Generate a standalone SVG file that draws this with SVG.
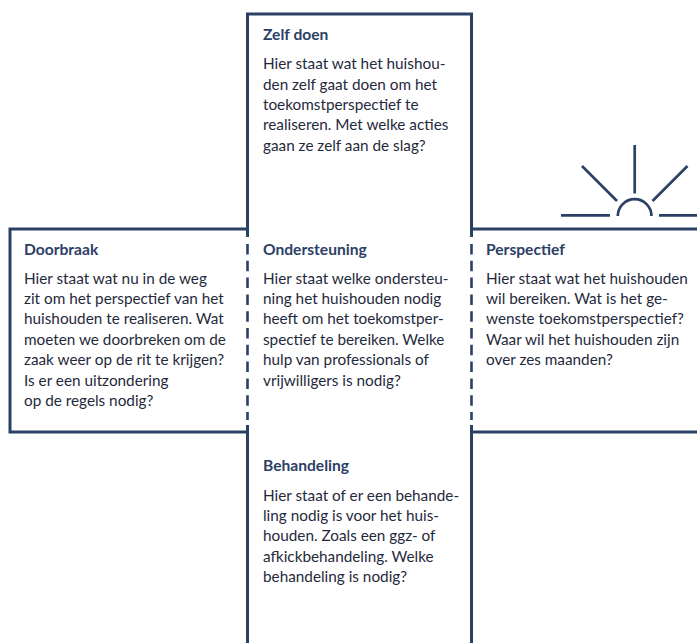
<svg xmlns="http://www.w3.org/2000/svg" width="697" height="643" viewBox="0 0 697 643">
<style>
text{font-family:Lato,"Liberation Sans",sans-serif;font-size:15.3px;fill:#1f2a3c}
.h{font-weight:700;fill:#2c4066;font-size:15.6px}
.l{fill:none;stroke:#2c4066;stroke-width:3}
.d{fill:none;stroke:#2c4066;stroke-width:2.6;stroke-dasharray:10.500 6.300}
.s{fill:none;stroke:#2c4066;stroke-width:2.700}
</style>
<rect width="697" height="643" fill="#fff"/>
<g id="connectors">
<path class="l" d="M247.500 643V432H10V229H247.500V14H471.500V229H697M471.500 432H697M471.500 432V643M247.500 229V237M471.500 229V237M247.500 425V432M471.500 425V432"/>
<path class="d" d="M247.500 244V420M471.500 244V420"/>
</g>
<g id="sun"><path class="s" d="M561 215.300H610M659 215.300H697M617.800 216A16.800 16.800 0 0 1 651.500 216M634.700 145V193.500M582 166L617 201M687.500 166L652.500 201"/></g>
<g id="zelf"><text class="h" x="263" y="39.500">Zelf doen</text>
<text x="263" y="69">Hier staat wat het huishou-</text><text x="263" y="89.500">den zelf gaat doen om het</text><text x="263" y="110">toekomstperspectief te</text><text x="263" y="130.300">realiseren. Met welke acties</text><text x="263" y="150.700">gaan ze zelf aan de slag?</text></g>
<g id="doorbraak"><text class="h" x="24" y="255">Doorbraak</text>
<text x="24" y="283.500">Hier staat wat nu in de weg</text><text x="24" y="304">zit om het perspectief van het</text><text x="24" y="324.300">huishouden te realiseren. Wat</text><text x="24" y="344.700">moeten we doorbreken om de</text><text x="24" y="365">zaak weer op de rit te krijgen?</text><text x="24" y="385.500">Is er een uitzondering</text><text x="24" y="406">op de regels nodig?</text></g>
<g id="ondersteuning"><text class="h" x="263" y="255">Ondersteuning</text>
<text x="263" y="283.500">Hier staat welke ondersteu-</text><text x="263" y="304">ning het huishouden nodig</text><text x="263" y="324.300">heeft om het toekomstper-</text><text x="263" y="344.700">spectief te bereiken. Welke</text><text x="263" y="365">hulp van professionals of</text><text x="263" y="385.500">vrijwilligers is nodig?</text></g>
<g id="perspectief"><text class="h" x="486" y="255">Perspectief</text>
<text x="486" y="283.500">Hier staat wat het huishouden</text><text x="486" y="304">wil bereiken. Wat is het ge-</text><text x="486" y="324.300">wenste toekomstperspectief?</text><text x="486" y="344.700">Waar wil het huishouden zijn</text><text x="486" y="365">over zes maanden?</text></g>
<g id="behandeling"><text class="h" x="263" y="471">Behandeling</text>
<text x="263" y="500.500">Hier staat of er een behande-</text><text x="263" y="521">ling nodig is voor het huis-</text><text x="263" y="541.300">houden. Zoals een ggz- of</text><text x="263" y="561.700">afkickbehandeling. Welke</text><text x="263" y="582">behandeling is nodig?</text></g>
</svg>
